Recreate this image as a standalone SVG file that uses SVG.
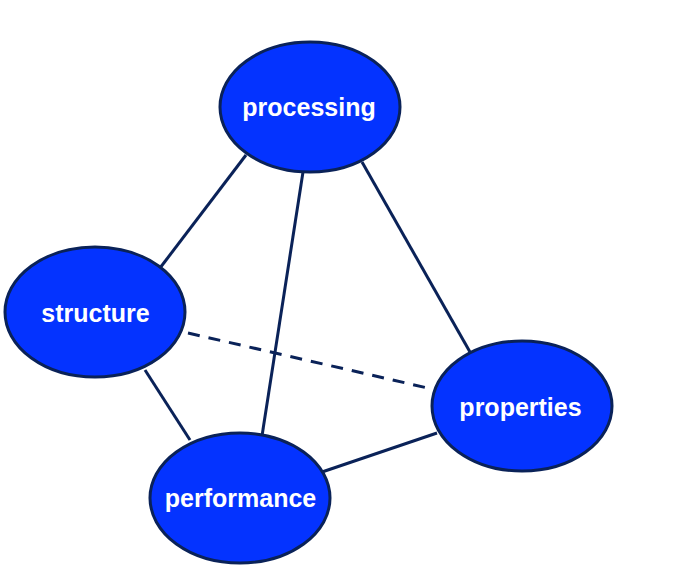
<svg xmlns="http://www.w3.org/2000/svg" width="682" height="588" viewBox="0 0 682 588">
<style>
.node{fill:#0433FF;stroke:#0A2258;stroke-width:3}
.lbl{font-family:"Liberation Sans",Arial,sans-serif;font-weight:bold;font-size:25px;fill:#FFFFFF;text-anchor:middle}
.edge{stroke:#0A2258;stroke-width:3;fill:none}
.dash{stroke-dasharray:12 9}
</style>
<rect width="682" height="588" fill="#FFFFFF"/>
<g id="connectors">
<line class="edge" x1="246" y1="155" x2="160" y2="268"/>
<line class="edge" x1="303" y1="172" x2="262" y2="436"/>
<line class="edge" x1="362" y1="162" x2="470" y2="352"/>
<line class="edge" x1="145" y1="370" x2="190" y2="440"/>
<line class="edge" x1="322" y1="472" x2="437" y2="433"/>
<line class="edge dash" x1="188" y1="333" x2="432" y2="389"/>
</g>
<g id="processing">
<ellipse class="node" cx="310" cy="107" rx="90" ry="65"/>
<text class="lbl" x="309" y="116">processing</text>
</g>
<g id="structure">
<ellipse class="node" cx="95" cy="312" rx="90" ry="65"/>
<text class="lbl" x="95.5" y="322">structure</text>
</g>
<g id="performance">
<ellipse class="node" cx="240" cy="498" rx="90" ry="65"/>
<text class="lbl" x="240.5" y="507">performance</text>
</g>
<g id="properties">
<ellipse class="node" cx="522" cy="406" rx="90" ry="65"/>
<text class="lbl" x="520.5" y="416">properties</text>
</g>
</svg>
